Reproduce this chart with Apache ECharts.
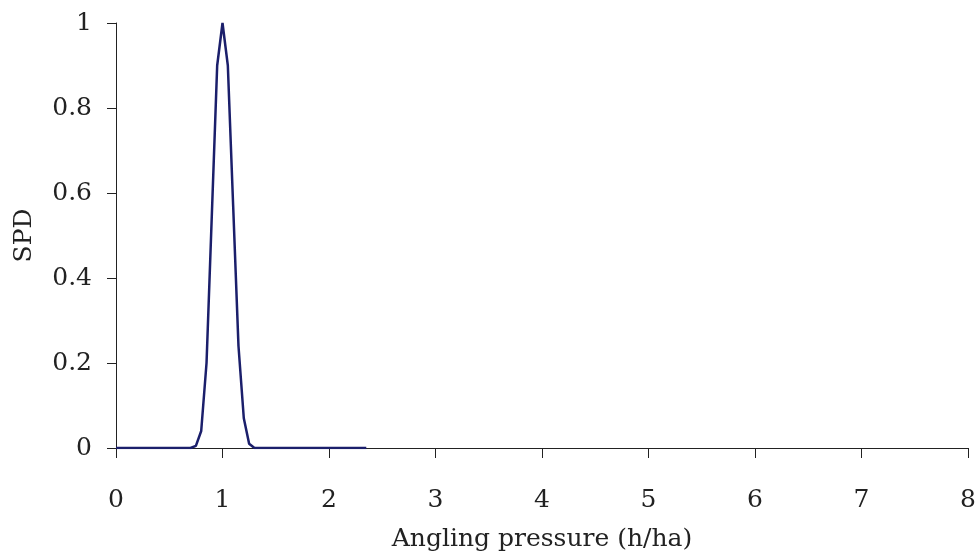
<!DOCTYPE html>
<html>
<head>
<meta charset="utf-8">
<script src="https://cdn.jsdelivr.net/npm/echarts@6/dist/echarts.min.js"></script>
<style>
  html, body { margin: 0; padding: 0; background: #fff; }
  #chart { width: 979px; height: 557px; }
</style>
</head>
<body>
<div id="chart"></div>
<script>
// angling pressure (h/ha) and SPD
const pressure = [0, 0.7, 0.75, 0.8, 0.85, 0.9, 0.95, 1.0, 1.05, 1.1, 1.15, 1.2, 1.25, 1.3, 2.35];
const spd = [0, 0, 0.005, 0.04, 0.2, 0.55, 0.9, 1.0, 0.9, 0.57, 0.24, 0.07, 0.01, 0, 0];

const xTicks = [0, 1, 2, 3, 4, 5, 6, 7, 8];
const yTicks = [0, 0.2, 0.4, 0.6, 0.8, 1];

const chart = echarts.init(document.getElementById('chart'));
const font = 'DejaVu Serif';
const ink = '#222';

chart.setOption({
  animation: false,
  grid: { left: 116, right: 10, top: 23, bottom: 107 },
  xAxis: {
    type: 'value',
    min: xTicks[0],
    max: xTicks[xTicks.length - 1],
    interval: 1,
    name: 'Angling pressure (h/ha)',
    nameLocation: 'middle',
    nameGap: 79,
    nameTextStyle: { fontFamily: font, fontSize: 25, color: ink },
    axisLine: { lineStyle: { color: ink, width: 1 } },
    axisTick: { inside: false, length: 10, lineStyle: { color: ink } },
    axisLabel: { fontFamily: font, fontSize: 25, color: ink, margin: 40 },
    splitLine: { show: false }
  },
  yAxis: {
    type: 'value',
    min: yTicks[0],
    max: yTicks[yTicks.length - 1],
    interval: 0.2,
    name: 'SPD',
    nameLocation: 'middle',
    nameGap: 79,
    nameTextStyle: { fontFamily: font, fontSize: 25, color: ink },
    axisLine: { show: true, lineStyle: { color: ink, width: 1 } },
    axisTick: { show: true, length: 9, lineStyle: { color: ink } },
    axisLabel: { fontFamily: font, fontSize: 25, color: ink, margin: 24 },
    splitLine: { show: false }
  },
  series: [{
    type: 'line',
    data: pressure.map((x, i) => [x, spd[i]]),
    symbol: 'none',
    lineStyle: { color: '#1b1f6b', width: 2.5 }
  }]
});
</script>
</body>
</html>
